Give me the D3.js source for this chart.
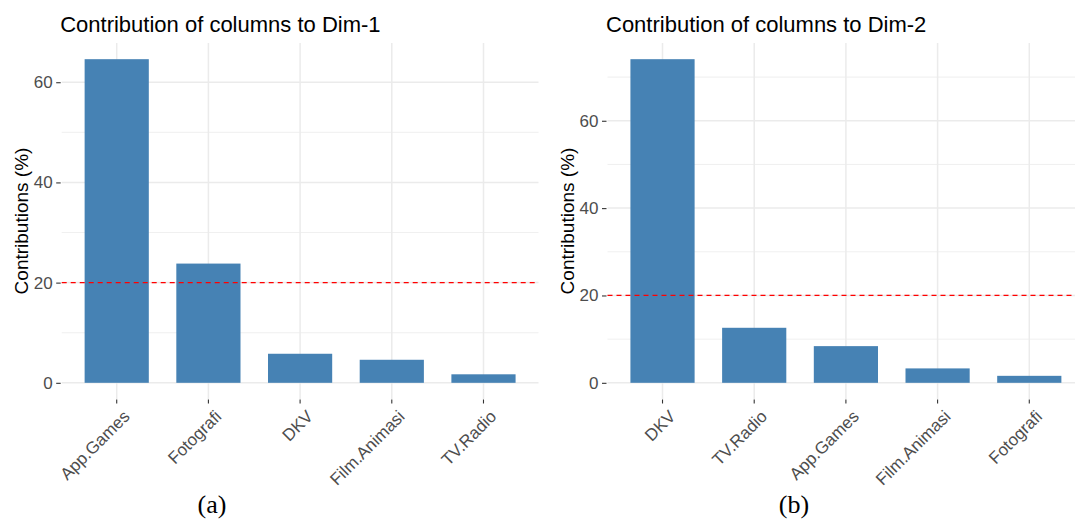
<!DOCTYPE html>
<html>
<head>
<meta charset="utf-8">
<script src="https://cdn.jsdelivr.net/npm/d3@7"></script>
<style>
  html, body { margin: 0; padding: 0; background: #ffffff; }
  svg { display: block; }
</style>
</head>
<body>
<svg id="chart" width="1075" height="520"></svg>
<script>
// Column contributions (%) to the first two dimensions, sorted descending
const dim1Categories = ["App.Games", "Fotografi", "DKV", "Film.Animasi", "TV.Radio"];
const dim1Values = [64.6, 23.8, 5.8, 4.6, 1.7];

const dim2Categories = ["DKV", "TV.Radio", "App.Games", "Film.Animasi", "Fotografi"];
const dim2Values = [74.1, 12.6, 8.4, 3.3, 1.6];

const yMajorTicks = [0, 20, 40, 60];
const dim1MinorTicks = [10, 30, 50];
const dim2MinorTicks = [10, 30, 50, 70];

// Expected average contribution (100 / number of columns)
const referenceLine = 20;

const titles = ["Contribution of columns to Dim-1", "Contribution of columns to Dim-2"];
const captions = ["(a)", "(b)"];
const yAxisTitle = "Contributions (%)";

const svg = d3.select("#chart");
const FONT = "'Liberation Sans', Arial, sans-serif";
const BAR = "#4682B4";
const GRID = "#ebebeb";

function drawPanel(cfg) {
  const { left, right, top, bottom, categories, values, minor, title, caption, captionX } = cfg;
  const g = svg.append("g");

  const x = d3.scaleBand()
    .domain(categories)
    .range([left, right])
    .paddingInner(0.3)
    .paddingOuter(0.25);

  const maxV = d3.max(values);
  const y = d3.scaleLinear()
    .domain([-0.05 * maxV, 1.05 * maxV])
    .range([bottom, top]);

  // minor horizontal grid
  g.selectAll("line.minor").data(minor).join("line")
    .attr("x1", left).attr("x2", right)
    .attr("y1", d => y(d)).attr("y2", d => y(d))
    .attr("stroke", GRID).attr("stroke-width", 0.8);

  // major horizontal grid
  g.selectAll("line.major").data(yMajorTicks).join("line")
    .attr("x1", left).attr("x2", right)
    .attr("y1", d => y(d)).attr("y2", d => y(d))
    .attr("stroke", GRID).attr("stroke-width", 1.5);

  // vertical grid at categories
  g.selectAll("line.vgrid").data(categories).join("line")
    .attr("x1", d => x(d) + x.bandwidth() / 2)
    .attr("x2", d => x(d) + x.bandwidth() / 2)
    .attr("y1", top).attr("y2", bottom)
    .attr("stroke", GRID).attr("stroke-width", 1.5);

  // bars
  g.selectAll("rect.bar").data(values).join("rect")
    .attr("x", (d, i) => x(categories[i]))
    .attr("width", x.bandwidth())
    .attr("y", d => y(d))
    .attr("height", d => y(0) - y(d))
    .attr("fill", BAR);

  // reference line
  g.append("line")
    .attr("x1", left).attr("x2", right)
    .attr("y1", y(referenceLine)).attr("y2", y(referenceLine))
    .attr("stroke", "#ff0000")
    .attr("stroke-width", 1.2)
    .attr("stroke-dasharray", "5,4");

  // y axis ticks and labels
  const yAxis = d3.axisLeft(y).tickValues(yMajorTicks).tickSize(4.5).tickPadding(3.5);
  const ya = g.append("g").attr("transform", `translate(${left - 1},0)`).call(yAxis);
  ya.select(".domain").remove();
  ya.selectAll(".tick line").attr("stroke", "#333333").attr("stroke-width", 1.1);
  ya.selectAll(".tick text")
    .attr("fill", "#4d4d4d")
    .style("font-family", FONT)
    .style("font-size", "17px");

  // x axis ticks and rotated labels
  const xAxis = d3.axisBottom(x).tickSize(4).tickPadding(0);
  const xa = g.append("g").attr("transform", `translate(0,${bottom + 0.5})`).call(xAxis);
  xa.select(".domain").remove();
  xa.selectAll(".tick line").attr("stroke", "#333333").attr("stroke-width", 1.1);
  xa.selectAll(".tick text")
    .attr("fill", "#4d4d4d")
    .style("font-family", FONT)
    .style("font-size", "17px")
    .attr("text-anchor", "end")
    .attr("y", 0)
    .attr("dy", 0)
    .attr("transform", "translate(14,18) rotate(-45)");

  // y axis title
  g.append("text")
    .attr("transform", `translate(${left - 33.5},${(top + bottom) / 2}) rotate(-90)`)
    .attr("text-anchor", "middle")
    .style("font-family", FONT)
    .style("font-size", "19px")
    .attr("fill", "#000000")
    .text(yAxisTitle);

  // panel title
  g.append("text")
    .attr("x", left - 1.5)
    .attr("y", 31.5)
    .style("font-family", FONT)
    .style("font-size", "22px")
    .attr("fill", "#000000")
    .text(title);

  // caption below panel
  g.append("text")
    .attr("x", captionX)
    .attr("y", 513)
    .attr("text-anchor", "middle")
    .style("font-family", "'Liberation Serif', 'Times New Roman', serif")
    .style("font-size", "26px")
    .attr("fill", "#000000")
    .text(caption);
}

drawPanel({
  left: 61.7, right: 538.5, top: 43, bottom: 399,
  categories: dim1Categories, values: dim1Values, minor: dim1MinorTicks,
  title: titles[0], caption: captions[0], captionX: 212
});

drawPanel({
  left: 607.5, right: 1084.3, top: 43, bottom: 399,
  categories: dim2Categories, values: dim2Values, minor: dim2MinorTicks,
  title: titles[1], caption: captions[1], captionX: 794
});
</script>
</body>
</html>
